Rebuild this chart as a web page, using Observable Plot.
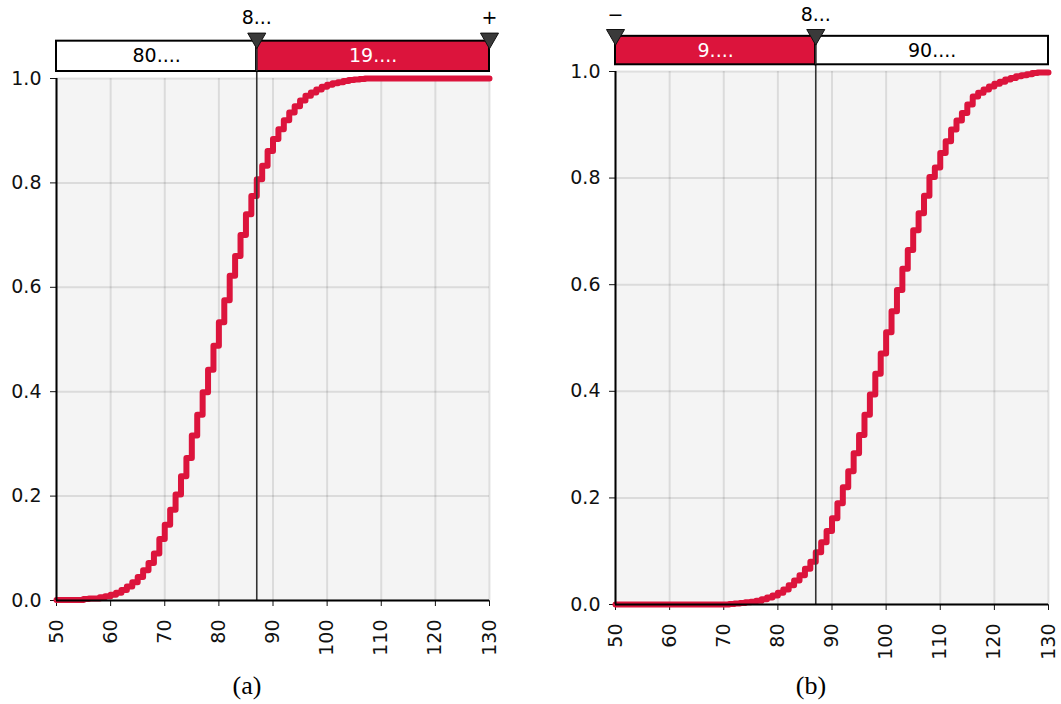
<!DOCTYPE html>
<html>
<head>
<meta charset="utf-8">
<script src="https://cdn.jsdelivr.net/npm/d3@7"></script>
<script src="https://cdn.jsdelivr.net/npm/@observablehq/plot@0.6"></script>
<style>
  html, body { margin: 0; padding: 0; background: #fff; }
  #wrap { position: relative; width: 1061px; height: 704px; overflow: hidden; background: #fff; }
  .panel { position: absolute; top: 0; }
  .cap { position: absolute; top: 673px; font-family: "Liberation Serif", "Times New Roman", serif; font-size: 26px; line-height: 1; transform: translateX(-50%); color: #000; }
</style>
</head>
<body>
<div id="wrap">
  <div class="panel" id="pa" style="left:0px"></div>
  <div class="panel" id="pb" style="left:530px"></div>
  <div class="cap" style="left:247px">(a)</div>
  <div class="cap" style="left:811px">(b)</div>
</div>
<script>
// ---- data ----
const xStart = 50;                 // first step of each cumulative curve
const xDomain = [50, 130];
const xTicks = [50, 60, 70, 80, 90, 100, 110, 120, 130];
const yTicks = [0, 0.2, 0.4, 0.6, 0.8, 1.0];
const threshold = 87;

// panel (a): cumulative share at x = 50, 51, ..., 130
const cdfA = [
  0.001, 0.001, 0.001, 0.001, 0.001, 0.003, 0.004, 0.004, 0.006, 0.008,
  0.011, 0.015, 0.020, 0.027, 0.035, 0.045,
  0.058, 0.072, 0.090, 0.118, 0.145, 0.174, 0.203, 0.238, 0.273, 0.316,
  0.356, 0.399, 0.442, 0.488,
  0.533, 0.575, 0.622, 0.660, 0.700, 0.740, 0.775, 0.807, 0.833, 0.861,
  0.884, 0.903, 0.920, 0.935, 0.947, 0.958, 0.967, 0.973, 0.979, 0.984,
  0.988, 0.991, 0.993, 0.995, 0.997, 0.998, 0.999, 1, 1, 1,
  1, 1, 1, 1, 1, 1, 1, 1, 1, 1, 1, 1, 1, 1, 1, 1, 1, 1, 1, 1, 1
];
// panel (b): cumulative share at x = 50, 51, ..., 130
const cdfB = [
  0, 0, 0, 0, 0, 0, 0, 0, 0, 0, 0, 0, 0, 0, 0, 0, 0, 0, 0, 0, 0,
  0.001, 0.002, 0.003, 0.004, 0.005, 0.007, 0.010, 0.013, 0.017,
  0.022, 0.028, 0.036, 0.045, 0.055, 0.067, 0.080, 0.098, 0.117, 0.138,
  0.162, 0.190, 0.220, 0.250, 0.284, 0.318, 0.356, 0.394, 0.433, 0.471,
  0.511, 0.550, 0.590, 0.630, 0.665, 0.702, 0.734, 0.767, 0.802, 0.820,
  0.847, 0.869, 0.891, 0.908, 0.922, 0.938,
  0.953, 0.960, 0.966, 0.972, 0.977, 0.981, 0.985, 0.988, 0.991, 0.993,
  0.995, 0.997, 0.998, 0.998, 0.998
];

const boxLabelsA = ["80....", "19...."];
const boxLabelsB = ["9....", "90...."];
const markerLabelsA = ["8...", "+"];
const markerLabelsB = ["\u2212", "8..."];

const RED = "#dc143c";

function panel({values, segs, markers, width, marginLeft, marginRight, marginTop, height, boxY, triY, labY}) {
  const data = values.map((v, i) => ({x: xStart + i, y: v}));
  return Plot.plot({
    width, height, marginLeft, marginRight, marginTop, marginBottom: 60,
    style: {fontFamily: "'DejaVu Sans', Verdana, sans-serif", fontSize: "19px", color: "#111", background: "transparent", overflow: "visible"},
    x: {domain: xDomain, ticks: xTicks, tickFormat: d => String(d), tickRotate: -90, tickSize: 6, tickPadding: 13, label: null},
    y: {domain: [0, 1], ticks: yTicks, tickFormat: d => d.toFixed(1), tickSize: 6, tickPadding: 9, label: null},
    marks: [
      Plot.frame({fill: "#f4f4f4", stroke: null}),
      Plot.gridX(xTicks, {stroke: "#000", strokeOpacity: 0.1, strokeWidth: 2}),
      Plot.gridY(yTicks, {stroke: "#000", strokeOpacity: 0.1, strokeWidth: 2}),
      Plot.line(data, {x: "x", y: "y", curve: "step-after", stroke: RED, strokeWidth: 6}),
      Plot.ruleX([threshold], {y1: 0, y2: triY, stroke: "#333", strokeWidth: 1.6}),
      Plot.ruleY([0], {x1: xDomain[0], x2: xDomain[1], stroke: "#000", strokeWidth: 2}),
      Plot.ruleX([xDomain[0]], {y1: 0, y2: 1, stroke: "#000", strokeWidth: 2}),
      Plot.rect(segs, {x1: "x1", x2: "x2", y1: boxY[0], y2: boxY[1], fill: "fill", stroke: "#000", strokeWidth: 2}),
      Plot.ruleX([threshold], {y1: boxY[0], y2: triY, stroke: "#333", strokeWidth: 1.6}),
      Plot.text(segs, {x: d => (d.x1 + d.x2) / 2, y: (boxY[0] + boxY[1]) / 2, text: "label", fill: "color", fontSize: 19}),
      Plot.dot(markers, {x: "x", y: triY, symbol: "triangle", rotate: 180, r: 6.7, fill: "#3a3a3a", stroke: "#111", strokeWidth: 1}),
      Plot.text(markers, {x: "x", y: labY, text: "label", fontSize: 19, fill: "#000"})
    ]
  });
}

const pa = panel({
  values: cdfA,
  segs: [
    {x1: xDomain[0], x2: threshold, fill: "#ffffff", color: "#000000", label: boxLabelsA[0]},
    {x1: threshold, x2: xDomain[1], fill: RED, color: "#ffffff", label: boxLabelsA[1]}
  ],
  markers: [{x: threshold, label: markerLabelsA[0]}, {x: xDomain[1], label: markerLabelsA[1]}],
  width: 530, marginLeft: 56, marginRight: 41, marginTop: 78, height: 660,
  boxY: [1.0134, 1.0715], triY: 1.077, labY: 1.117
});
document.getElementById("pa").appendChild(pa);

const pb = panel({
  values: cdfB,
  segs: [
    {x1: xDomain[0], x2: threshold, fill: RED, color: "#ffffff", label: boxLabelsB[0]},
    {x1: threshold, x2: xDomain[1], fill: "#ffffff", color: "#000000", label: boxLabelsB[1]}
  ],
  markers: [{x: xDomain[0], label: markerLabelsB[0]}, {x: threshold, label: markerLabelsB[1]}],
  width: 531, marginLeft: 85, marginRight: 13, marginTop: 71, height: 664,
  boxY: [1.0126, 1.066], triY: 1.069, labY: 1.107
});
document.getElementById("pb").appendChild(pb);
</script>
</body>
</html>
